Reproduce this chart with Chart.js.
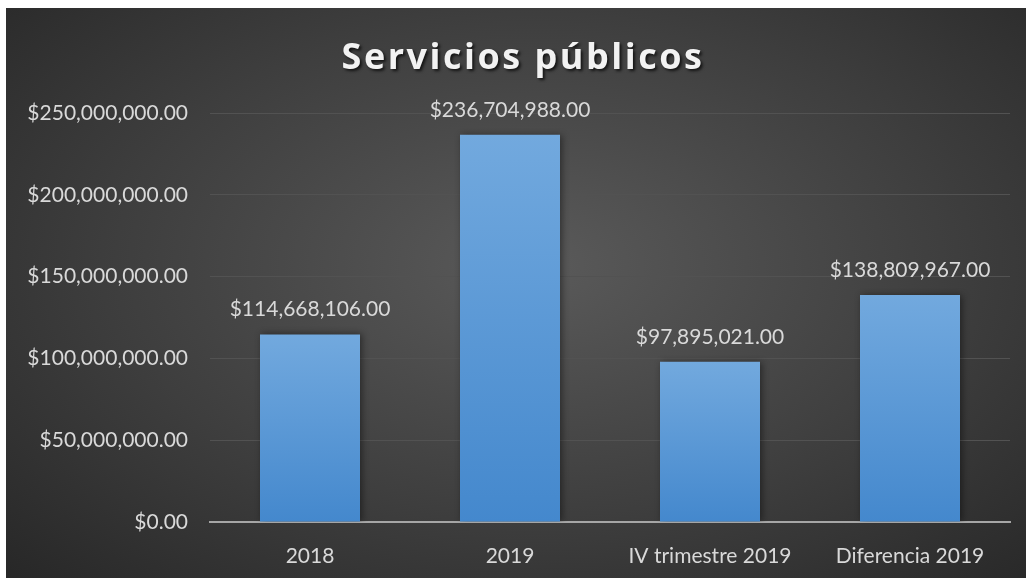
<!DOCTYPE html>
<html>
<head>
<meta charset="utf-8">
<script src="https://cdn.jsdelivr.net/npm/chart.js@4"></script>
<style>
  html, body { margin: 0; padding: 0; background: #ffffff; }
  #wrap {
    position: absolute; left: 6px; top: 8px; width: 1020px; height: 570px;
    background: radial-gradient(ellipse 75% 80% at 52% 45%, #5a5a5a 0%, #3e3e3e 55%, #262626 100%);
  }
</style>
</head>
<body>
<div id="wrap"><canvas id="chart" width="1020" height="570"></canvas></div>
<script>
  // Data
  const categories = ["2018", "2019", "IV trimestre 2019", "Diferencia 2019"];
  const amounts = [114668106, 236704988, 97895021, 138809967];
  const titleText = "Servicios públicos";

  const money = (v) =>
    "$" + v.toLocaleString("en-US", { minimumFractionDigits: 2, maximumFractionDigits: 2 });

  // Vertical gradient for each bar, from its top down to the base
  const barFill = (ctx) => {
    const chart = ctx.chart;
    const y = chart.scales.y;
    if (!chart.chartArea || !y || ctx.parsed == null) return "#5a98d6";
    const top = y.getPixelForValue(ctx.parsed.y);
    const bottom = y.getPixelForValue(0);
    const g = chart.ctx.createLinearGradient(0, top, 0, bottom);
    g.addColorStop(0, "#72a9de");
    g.addColorStop(1, "#4488cd");
    return g;
  };

  // Title with letter spacing and shadow
  const titlePlugin = {
    id: "bigTitle",
    afterDraw(chart) {
      const c = chart.ctx;
      c.save();
      c.font = "bold 36px 'Open Sans'";
      c.letterSpacing = "2.5px";
      c.fillStyle = "#f2f2f2";
      c.textAlign = "center";
      c.textBaseline = "alphabetic";
      c.shadowColor = "rgba(0,0,0,0.7)";
      c.shadowOffsetX = 2;
      c.shadowOffsetY = 2;
      c.shadowBlur = 3;
      c.fillText(titleText, 517, 61);
      c.restore();
    },
  };

  // Soft shadow behind bars
  const shadowPlugin = {
    id: "barShadow",
    beforeDatasetsDraw(chart) {
      const c = chart.ctx;
      c.save();
      c.shadowColor = "rgba(0,0,0,0.45)";
      c.shadowBlur = 7;
      c.shadowOffsetX = 2;
    },
    afterDatasetsDraw(chart) {
      chart.ctx.restore();
    },
  };

  // Value labels above bars
  const valueLabels = {
    id: "valueLabels",
    afterDatasetsDraw(chart) {
      const c = chart.ctx;
      c.save();
      c.font = "21px Lato";
      c.fillStyle = "#d9d9d9";
      c.textAlign = "center";
      c.textBaseline = "alphabetic";
      chart.getDatasetMeta(0).data.forEach((bar, i) => {
        c.fillText(money(amounts[i]), bar.x, bar.y - 18);
      });
      c.restore();
    },
  };

  new Chart(document.getElementById("chart"), {
    type: "bar",
    data: {
      labels: categories,
      datasets: [
        {
          label: titleText,
          data: amounts,
          backgroundColor: barFill,
          borderWidth: 0,
          barPercentage: 0.5,
          categoryPercentage: 1,
        },
      ],
    },
    options: {
      responsive: false,
      animation: false,
      layout: { padding: { top: 105, right: 16, bottom: 0, left: 0 } },
      plugins: {
        legend: { display: false },
        title: { display: false },
        tooltip: { enabled: false },
      },
      scales: {
        x: {
          grid: { display: false },
          border: { display: true, color: "#a6a6a6", width: 2 },
          ticks: { color: "#d9d9d9", font: { family: "Lato", size: 21 }, padding: 14, maxRotation: 0 },
          afterFit: (s) => { s.height = 56; },
        },
        y: {
          min: 0,
          max: 250000000,
          ticks: {
            stepSize: 50000000,
            color: "#d9d9d9",
            font: { family: "Lato", size: 21 },
            padding: 22,
            callback: (v) => money(v),
          },
          grid: { color: "#525252", lineWidth: 1, drawTicks: false },
          border: { display: false },
          afterFit: (s) => { s.width = 204; },
        },
      },
    },
    plugins: [shadowPlugin, valueLabels, titlePlugin],
  });
</script>
</body>
</html>
